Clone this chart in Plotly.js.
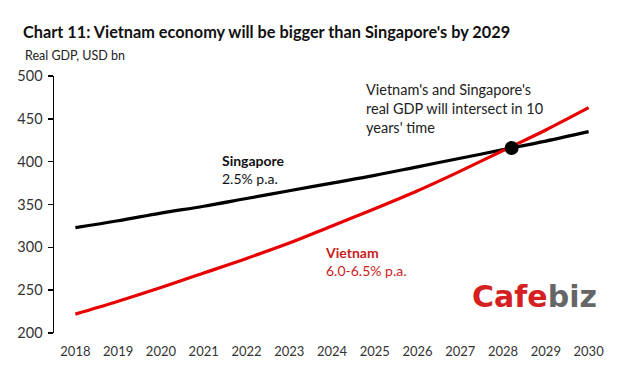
<!DOCTYPE html>
<html><head><meta charset="utf-8">
<script src="https://cdn.plot.ly/plotly-3.0.1.min.js"></script>
<style>html,body{margin:0;padding:0;background:#fff}#c{width:640px;height:388px}</style>
</head><body><div id="c"></div>
<script>
const years = [2018,2019,2020,2021,2022,2023,2024,2025,2026,2027,2028,2029,2030];
const singapore = [323,331,340,348,357,366,375,384,394,404,414,424,435];
const vietnam = [222,237,253,270,287,305,325,345,366,389,413,437,463];
const crossYear = [2028.2];
const crossValue = [416];
const yTicks = [200,250,300,350,400,450,500];

const font = "Lato, 'Open Sans', sans-serif";
const traces = [
  {x: years, y: singapore, mode: 'lines', line: {color: '#000000', width: 3.2, shape: 'spline'}, hoverinfo: 'skip'},
  {x: years, y: vietnam, mode: 'lines', line: {color: '#e80000', width: 3.2, shape: 'spline'}, hoverinfo: 'skip'},
  {x: crossYear, y: crossValue, mode: 'markers', marker: {color: '#000000', size: 14}, hoverinfo: 'skip'}
];
const layout = {
  width: 640, height: 388,
  margin: {l: 54, r: 30, t: 76, b: 55},
  paper_bgcolor: '#ffffff', plot_bgcolor: '#ffffff',
  showlegend: false,
  font: {family: font, size: 13, color: '#333333'},
  xaxis: {range: [2017.5, 2030.5], tickvals: years, ticktext: years.map(String), showgrid: false, zeroline: false, showline: false, ticks: '', ticklabelstandoff: 9, tickfont: {size: 13, color: '#333333'}},
  yaxis: {range: [200, 500], tickvals: yTicks, showgrid: false, zeroline: false, showline: true, linecolor: '#000000', linewidth: 1.5, ticks: 'outside', ticklen: 5, tickcolor: '#000000', tickwidth: 1.5, ticklabelstandoff: 2, tickfont: {size: 14.5, color: '#333333'}},
  annotations: [
    {xref: 'x', yref: 'y', x: 2021.37, y: 390.3, xanchor: 'left', yanchor: 'middle', showarrow: false, align: 'left',
     text: '<b>Singapore</b><br>2.5% p.a.', font: {family: font, size: 14, color: '#111111'}},
    {xref: 'x', yref: 'y', x: 2023.8, y: 284, xanchor: 'left', yanchor: 'middle', showarrow: false, align: 'left',
     text: '<b>Vietnam</b><br>6.0-6.5% p.a.', font: {family: font, size: 14, color: '#c81c1c'}},
    {xref: 'x', yref: 'paper', x: 2024.74, y: (333 - 108.5) / 257, xanchor: 'left', yanchor: 'middle', showarrow: false, align: 'left',
     text: "Vietnam's and Singapore's<br>real GDP will intersect in 10<br>years' time", font: {family: font, size: 14.5, color: '#222222'}},
    {xref: 'x', yref: 'y', x: 2028.74, y: 243, xanchor: 'center', yanchor: 'middle', showarrow: false,
     text: "<b><span style='color:#d42020'>Cafe</span><span style='color:#666666'>biz</span></b>", font: {family: "'DejaVu Sans', sans-serif", size: 30}},
    {xref: 'paper', yref: 'paper', x: -31/556, y: 1 + 21/257, xanchor: 'left', yanchor: 'middle', showarrow: false,
     text: 'Real GDP, USD bn', font: {family: font, size: 12.5, color: '#222222'}}
  ]
};
layout.title = {text: '<b>Chart 11: Vietnam economy will be bigger than Singapore\'s by 2029</b>', x: 23/640, xanchor: 'left', xref: 'container', yref: 'container', y: 1 - 32/388, yanchor: 'middle', font: {family: font, size: 16.3, color: '#111111'}};
Plotly.newPlot('c', traces, layout, {staticPlot: true, displayModeBar: false});
</script></body></html>
